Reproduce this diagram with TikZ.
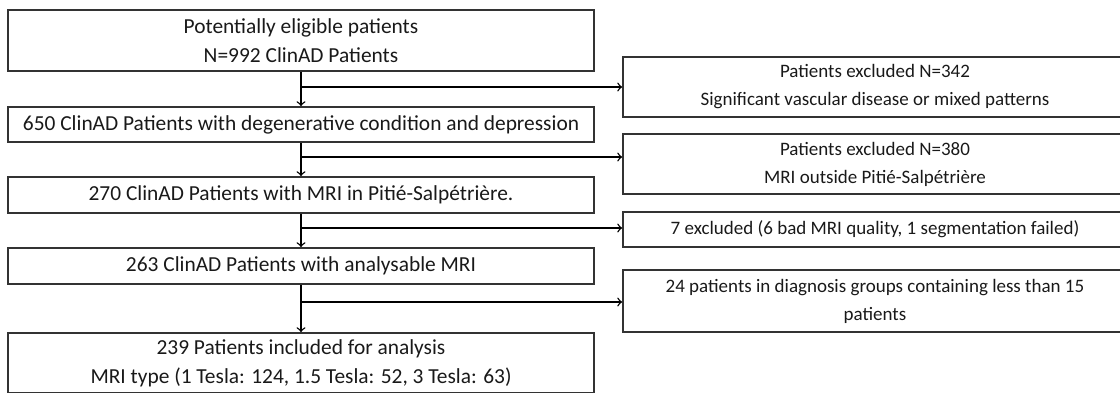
\documentclass[tikz,border=0pt]{standalone}
\usepackage{fontspec}
\setmainfont{Carlito}
\usetikzlibrary{arrows,calc}
\begin{document}
\begin{tikzpicture}[x=0.5pt,y=-0.5pt,>=to]
\tikzstyle{stage}=[draw=black!80,line width=0.9pt,inner sep=0pt,align=center,minimum width=293pt,text=black!90,font=\fontsize{10.7}{14.5}\selectfont]
\tikzstyle{excl}=[stage,minimum width=252pt,font=\fontsize{9.5}{14}\selectfont]
\tikzstyle{flow}=[line width=0.7pt,->]
\useasboundingbox (0,0) rectangle (1120,392);
% main column
\node[stage,minimum height=30.5pt] (eligible) at (301,40.5) {Potentially eligible patients\\N=992 ClinAD Patients};
\node[stage,minimum height=17.5pt] (degen) at (301,124.5) {650 ClinAD Patients with degenerative condition and depression};
\node[stage,minimum height=18pt] (pitie) at (301,195) {270 ClinAD Patients with MRI in Pitié-Salpétrière.};
\node[stage,minimum height=18pt] (analys) at (301,266) {263 ClinAD Patients with analysable MRI};
\node[stage,minimum height=30pt] (incl) at (301,363) {239 Patients included for analysis\\MRI type (1 Tesla: 124, 1.5 Tesla: 52, 3 Tesla: 63)};
% exclusions
\node[excl,minimum height=30pt] (excl1) at (875,87) {Patients excluded N=342\\Significant vascular disease or mixed patterns};
\node[excl,minimum height=30pt] (excl2) at (875,164) {Patients excluded N=380\\MRI outside Pitié-Salpétrière};
\node[excl,minimum height=17.5pt] (excl3) at (875,229.5) {7 excluded (6 bad MRI quality, 1 segmentation failed)};
\node[excl,minimum height=31pt] (excl4) at (875,301) {24 patients in diagnosis groups containing less than 15\\patients};
\coordinate (s1) at (301,87);
\coordinate (s2) at (301,157);
\coordinate (s3) at (301,228);
\coordinate (s4) at (301,302);
\draw[flow] (eligible) -- (degen);
\draw[flow] (degen) -- (pitie);
\draw[flow] (pitie) -- (analys);
\draw[flow] (analys) -- (incl);
\draw[flow] (s1) -- (s1 -| excl1.west);
\draw[flow] (s2) -- (s2 -| excl2.west);
\draw[flow] (s3) -- (s3 -| excl3.west);
\draw[flow] (s4) -- (s4 -| excl4.west);
\end{tikzpicture}
\end{document}
